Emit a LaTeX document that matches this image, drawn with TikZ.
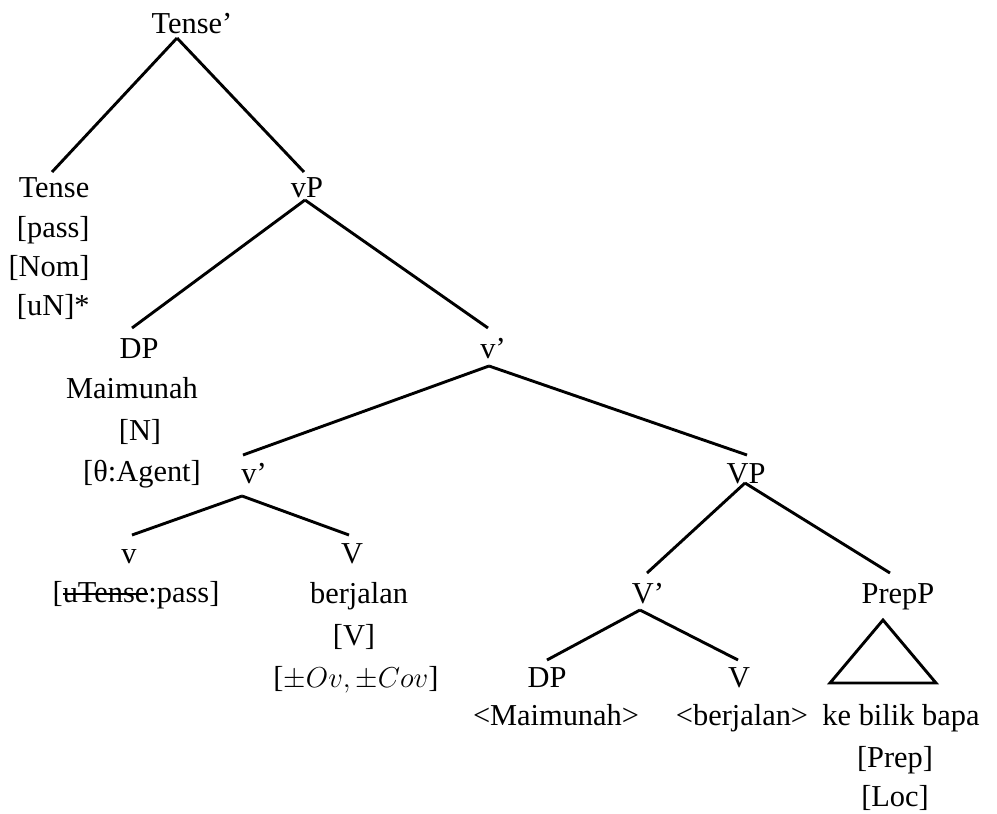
\documentclass[tikz,border=0pt]{standalone}
\usepackage{fontspec}
\setmainfont{Liberation Serif}
% strike-through: a thin rule drawn over the boxed text
\newcommand\strk[1]{\setbox0\hbox{#1}\rlap{\rule[0.24em]{\wd0}{0.06em}}\box0}
\begin{document}
\begin{tikzpicture}[x=0.5pt,y=-0.5pt,
  lbl/.style={anchor=base,inner sep=0pt,font=\fontsize{15.2}{18}\selectfont},
  featr/.style={lbl,anchor=base east},
  branch/.style={line width=1.45pt}]
\useasboundingbox (0,0) rectangle (997,814);

% ---- labels ----
\node[lbl] (Tp)   at (192,33)  {Tense’};
\node[lbl] (T)    at (54,197)  {Tense};
\node[featr] (Tf1) at (90,237) {[pass]};
\node[featr] (Tf2) at (90,276) {[Nom]};
\node[featr] (Tf3) at (90,315) {[uN]*};

\node[lbl] (vP)   at (307,197) {vP};

\node[lbl] (DPa)  at (139,358) {DP};
\node[lbl] (DPa1) at (132,398) {Maimunah};
\node[lbl] (DPa2) at (140,440) {[N]};
\node[lbl] (DPa3) at (142,481) {[θ:Agent]};

\node[lbl] (vba)  at (493,358) {v’};
\node[lbl] (vbb)  at (254,483) {v’};

\node[lbl] (v)    at (129,563) {v};
\node[lbl] (v1)   at (136,602) {[\strk{uTense}:pass]};

\node[lbl] (Va)   at (352,563) {V};
\node[lbl] (Va1)  at (359,603) {berjalan};
\node[lbl] (Va2)  at (354,645) {[V]};
\node[lbl] (Va3)  at (356,687) {[$\pm Ov, \pm Cov$]};

\node[lbl] (VP)   at (746,483) {VP};
\node[lbl] (Vb)   at (648,603) {V’};
\node[lbl] (PP)   at (898,603) {PrepP};

\node[lbl] (DPb)  at (547,687) {DP};
\node[lbl] (DPb1) at (556,725) {<Maimunah>};
\node[lbl] (Vc)   at (739,687) {V};
\node[lbl] (Vc1)  at (742,725) {<berjalan>};

\node[lbl] (PP1)  at (901,725) {ke bilik bapa};
\node[lbl] (PP2)  at (895,767) {[Prep]};
\node[lbl] (PP3)  at (895,806) {[Loc]};

% ---- branches ----
\draw[branch] ([shift={(-15,5)}]Tp.base) -- ([shift={(-2,-25)}]T.base);
\draw[branch] ([shift={(-15,5)}]Tp.base) -- ([shift={(-3,-25)}]vP.base);

\draw[branch] ([shift={(-2,3)}]vP.base) -- ([shift={(-7,-30)}]DPa.base);
\draw[branch] ([shift={(-2,3)}]vP.base) -- ([shift={(-5,-30)}]vba.base);

\draw[branch] ([shift={(-4,8)}]vba.base) -- ([shift={(-11,-28)}]vbb.base);
\draw[branch] ([shift={(-4,8)}]vba.base) -- ([shift={(1,-28)}]VP.base);

\draw[branch] ([shift={(-12,13)}]vbb.base) -- ([shift={(3,-28)}]v.base);
\draw[branch] ([shift={(-12,13)}]vbb.base) -- ([shift={(-3,-28)}]Va.base);

\draw[branch] ([shift={(-1,0)}]VP.base) -- ([shift={(-1,-30)}]Vb.base);
\draw[branch] ([shift={(-1,0)}]VP.base) -- ([shift={(-8,-30)}]PP.base);

\draw[branch] ([shift={(-8,7)}]Vb.base) -- ([shift={(0,-27)}]DPb.base);
\draw[branch] ([shift={(-8,7)}]Vb.base) -- ([shift={(-1,-27)}]Vc.base);

% roof over the prepositional phrase
\draw[branch] ([shift={(-15,17)}]PP.base) -- ([shift={(-68,80)}]PP.base)
  -- ([shift={(38,80)}]PP.base) -- cycle;
\end{tikzpicture}
\end{document}
